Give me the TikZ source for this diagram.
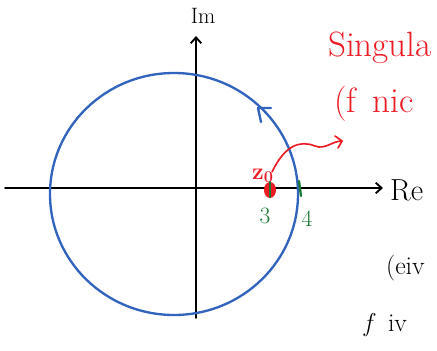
\documentclass[tikz,border=0pt]{standalone}
\usepackage{fontspec}
\usepackage{tikz}
\usetikzlibrary{positioning,calc,arrows.meta}
\usepackage{xcolor}
\definecolor{penblue}{RGB}{50,100,190}
\definecolor{penred}{RGB}{236,28,36}
\definecolor{pengreen}{RGB}{24,120,52}

\begin{document}
\begin{tikzpicture}[x=0.03cm,y=-0.03cm,line cap=round,line join=round]
  \useasboundingbox (0,0) rectangle (437,350);
  \clip (0,0) rectangle (437,350);
  % axes
  \coordinate (o) at (196,188);
  \draw[line width=1.6pt,-{Straight Barb[length=5pt,width=9pt]}] (5,188) -- (383,188);
  \draw[line width=1.6pt,-{Straight Barb[length=5pt,width=9pt]}] (196,318) -- (196,36);
  \node (im) at (203,16) {\fontsize{19}{22}\selectfont Im};
  \node[anchor=west] (re) at (386,190) {\fontsize{26}{30}\selectfont Re};
  % circle
  \draw[penblue,line width=2pt] (174,194) ellipse (124 and 121);
  \draw[penblue,line width=2pt] (261,122) -- (258,108) -- (271,108);
  % points
  \fill[penred] (270,190) ellipse (6 and 8);
  \node[penred] (z0) at (263,176) {\fontsize{20}{24}\selectfont\bfseries z\textsubscript{0}};
  \draw[pengreen,line width=2pt] (270,182) -- (270,197);
  \draw[pengreen,line width=2pt] (299,181) -- (301,196);
  \node[pengreen] (three) at (265,216) {\fontsize{20}{24}\selectfont 3};
  \node[pengreen] (four) at (307,219) {\fontsize{20}{24}\selectfont 4};
  % remark
  \draw[penred,line width=1.4pt] (272,172) .. controls (285,145) and (300,140) .. (315,146)
    .. controls (325,150) and (332,141) .. (342,141);
  \draw[penred,line width=1.4pt] (335,136) -- (342,141) -- (338,148);
  \node[penred,anchor=west] (sing) at (324,48) {\fontsize{30}{36}\selectfont Singula};
  \node[penred,anchor=west] (nic) at (330,104) {\fontsize{30}{36}\selectfont (f\, nic};
  \node[anchor=west] (ein) at (382,268) {\fontsize{22}{26}\selectfont (eiv};
  \node[anchor=west] (fiv) at (360,325) {\fontsize{22}{26}\selectfont \itshape f\; \upshape iv};
\end{tikzpicture}
\end{document}
